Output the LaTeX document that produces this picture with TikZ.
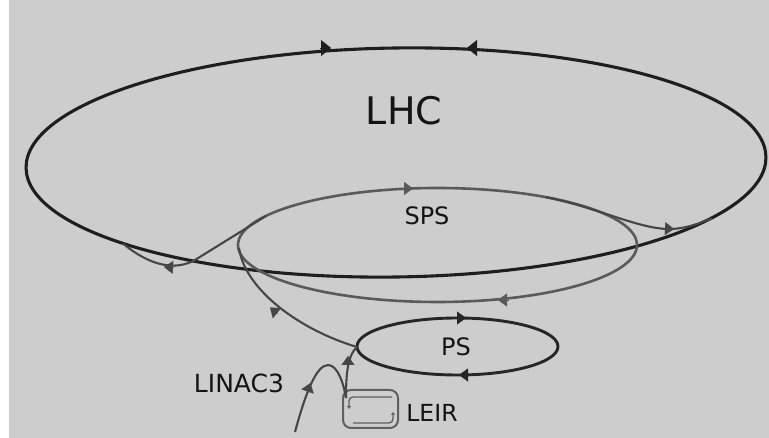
\documentclass[tikz,border=0pt]{standalone}
\usepackage{fontspec}
\setmainfont{DejaVu Sans}
\usetikzlibrary{arrows.meta}
\definecolor{bg}{RGB}{205,205,205}
\definecolor{lhcc}{RGB}{30,30,30}
\definecolor{spsc}{RGB}{90,90,90}
\definecolor{psc}{RGB}{38,38,38}
\definecolor{trc}{RGB}{70,70,70}
\definecolor{leirc}{RGB}{96,96,96}
\definecolor{txt}{RGB}{20,20,20}
\begin{document}
\begin{tikzpicture}[x=1pt,y=-1pt,
  lhcline/.style={draw=lhcc, line width=3.1pt},
  spsline/.style={draw=spsc, line width=2.6pt},
  psline/.style={draw=psc, line width=2.9pt},
  trline/.style={draw=trc, line width=2.1pt},
  leirline/.style={draw=leirc, line width=2pt, rounded corners=8pt},
  leirin/.style={draw=leirc, line width=1.4pt, rounded corners=4pt},
  tipbig/.style={-{Triangle[length=10pt,width=16pt]}, line width=0.2pt},
  tipmid/.style={-{Triangle[length=9pt,width=13pt]}, line width=0.2pt},
  tipsmall/.style={-{Triangle[length=3pt,width=4pt]}},
  lbl/.style={inner sep=0pt, text=txt}
]
\useasboundingbox (0,0) rectangle (769,438);
\fill[white] (0,0) rectangle (769,438);
\fill[bg] (9,0) rectangle (769,438);

% rings
\draw[lhcline, rotate around={0.85:(396,162.5)}] (396,162.5) ellipse [x radius=370, y radius=114.5];
\draw[spsline] (437.5,245) ellipse [x radius=199.5, y radius=57];
\draw[psline] (457.5,346.5) ellipse [x radius=100.5, y radius=28.5];
\draw[leirline] (343,390) rectangle (398,428);

% labels
\node[lbl, font=\fontsize{38}{38}\selectfont] (lhclabel) at (404,111) {LHC};
\node[lbl, font=\fontsize{24}{24}\selectfont] (spslabel) at (427,216) {SPS};
\node[lbl, font=\fontsize{24}{24}\selectfont] (pslabel) at (456,347) {PS};
\node[lbl, font=\fontsize{25}{25}\selectfont] (linaclabel) at (239,383) {LINAC3};
\node[lbl, font=\fontsize{23.5}{23.5}\selectfont] (leirlabel) at (432,413) {LEIR};

% named points
\coordinate (psW) at (357,347);
\coordinate (spsW) at (239,248);
\coordinate (leirW) at (346,398);
\coordinate (linacS) at (295,432);
\coordinate (spsTL) at (266,216);
\coordinate (lhcL) at (123,243.5);
\coordinate (spsTR) at (545,197);
\coordinate (lhcR) at (712,218.5);

% transfer lines
\draw[trline] (psW) .. controls (300,330) and (245,290) .. (spsW);
\draw[trline] (leirW) .. controls (346,372) and (348,355) .. (psW);
\draw[trline] (linacS) .. controls (305,395) and (316,365) .. (328,365)
   .. controls (338,365) and (344,385) .. (leirW);
\draw[trline] (spsTL) -- (195,260) .. controls (175,271) and (150,266) .. (lhcL);
\draw[trline] (spsTR) .. controls (600,208) and (640,230) .. (672,229)
   .. controls (688,228) and (700,223) .. (lhcR);

% LEIR inner track
\draw[leirin, tipsmall] (392,397) -- (349,397) -- (349,409);
\draw[leirin, tipsmall] (353,423) -- (393,423) -- (393,412);

% arrowheads on rings
\draw[tipbig, lhcc] (320,48) -- (331,48);
\draw[tipbig, lhcc] (478,48) -- (467,48);
\draw[tipmid, spsc] (403,188.5) -- (413,188.5);
\draw[tipmid, spsc] (509,300) -- (498,300);
\draw[tipmid, psc] (456,318) -- (466,318);
\draw[tipmid, psc] (469,375) -- (459,375);

% arrowheads on transfer lines
\draw[tipmid, trc] (278,314) -- (270,307.5);
\draw[tipmid, trc] (348,366) -- (348,356);
\draw[tipmid, trc] (307,393) -- (310.5,383);
\draw[tipmid, trc] (175,267.5) -- (164,267);
\draw[tipmid, trc] (663,228.5) -- (674,229);
\end{tikzpicture}
\end{document}
